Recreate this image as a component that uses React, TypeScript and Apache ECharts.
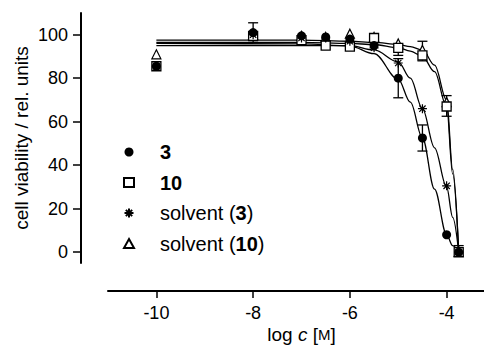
import React, { useEffect, useRef } from "react";
import * as echarts from "echarts";

const FONT = "'Liberation Sans', Arial, Helvetica, sans-serif";

// log concentrations of measured points
const conc = [-10, -8, -7, -6.5, -6, -5.5, -5, -4.5, -4, -3.75];
const cmp3 = [85.5, 101, 99.5, 99, 98, 95, 80, 52.5, 8, 0];
const cmp10 = [85.5, 99.5, 97.5, 95, 94.5, 98.5, 94, 90.5, 67, 0];
const solv3 = [85.5, 100, 98.5, 98.5, 97, 94, 87, 66, 30.5, 0];
const solv10 = [91, 100, 99.5, 99, 100.5, 99, 96, 93, 69, 0];

// fitted curves
const curveX = [-10, -7, -6, -5.5, -5, -4.75, -4.5, -4.25, -4, -3.875, -3.75];
const fit3 = [96, 95.8, 94.8, 91.3, 79.5, 69, 52.5, 29, 8, 3, 0];
const fit10 = [96.5, 96.5, 96, 95.5, 94, 92.5, 90, 83, 67, 36, 0];
const fitS3 = [95, 95, 95, 93, 87.5, 80, 66, 48, 30, 16, 0];
const fitS10 = [97.5, 97.5, 97, 96.5, 95.5, 94.5, 93, 86, 70, 38, 0];

// error bars
const errX = [-8, -5, -4.5, -4.5, -5, -4, -3.75];
const errLow = [96.5, 71, 46.5, 88, 90.5, 62.5, -2];
const errHigh = [105.5, 89, 58.5, 97, 94, 72, 3];

const xTicks = [-10, -8, -6, -4];
const yTicks = [0, 20, 40, 60, 80, 100];

const names = ["3", "10", "solvent (3)", "solvent (10)"];
const ASTERISK = "path://M5,0L5,10M0,5L10,5M1.5,1.5L8.5,8.5M1.5,8.5L8.5,1.5";

const pts = (xs: number[], ys: number[]) => xs.map((x, i) => [x, ys[i]]);

export default function App() {
  const ref = useRef<HTMLDivElement>(null);
  useEffect(() => {
    document.body.style.margin = "0";
    const chart = echarts.init(ref.current!, null, { renderer: "svg" });
    const curve = (data: number[]) => ({
      type: "line",
      data: pts(curveX, data),
      smooth: 0.35,
      smoothMonotone: "x",
      showSymbol: false,
      symbol: "none",
      lineStyle: { color: "#000", width: 1.3 },
      z: 1,
      silent: true,
    });
    chart.setOption({
      animation: false,
      backgroundColor: "#fff",
      textStyle: { fontFamily: FONT },
      grid: { left: 108, top: 13, width: 387, height: 250, containLabel: false, outerBoundsMode: "none" },
      legend: {
        orient: "vertical",
        left: 118,
        top: 137,
        itemWidth: 10,
        itemHeight: 9,
        itemGap: 10.5,
        data: names,
        formatter: (n: string) => {
          if (n === "3") return "{sp|}{b|3}";
          if (n === "10") return "{sp|}{b|10}";
          if (n === "solvent (3)") return "{sp|}{n|solvent (}{b|3}{n|)}";
          return "{sp|}{n|solvent (}{b|10}{n|)}";
        },
        textStyle: {
          fontFamily: FONT,
          fontSize: 20,
          color: "#000",
          lineHeight: 20,
          rich: {
            sp: { width: 21 },
            n: { fontSize: 20, fontFamily: FONT, color: "#000" },
            b: { fontSize: 20, fontWeight: "bold", fontFamily: FONT, color: "#000" },
          },
        },
      },
      xAxis: {
        type: "value",
        min: -11,
        max: -3,
        offset: 28,
        splitLine: { show: false },
        axisLine: { show: true, onZero: false, lineStyle: { color: "#000", width: 2 } },
        axisTick: { show: true, customValues: xTicks, length: 7, lineStyle: { color: "#000", width: 1.5 } },
        axisLabel: { customValues: xTicks, fontSize: 18, margin: 13, color: "#000", fontFamily: FONT },
        name: "log {i|c} [{s|M}]",
        nameLocation: "middle",
        nameGap: 34,
        nameMoveOverlap: false,
        nameTextStyle: {
          fontSize: 19,
          lineHeight: 19,
          color: "#000",
          fontFamily: FONT,
          rich: {
            i: { fontStyle: "italic", fontSize: 19, lineHeight: 19, fontFamily: FONT, color: "#000" },
            s: { fontSize: 15, lineHeight: 19, fontFamily: FONT, color: "#000" },
          },
        },
      },
      yAxis: {
        type: "value",
        min: -5,
        max: 110,
        offset: 27,
        splitLine: { show: false },
        axisLine: { show: true, onZero: false, lineStyle: { color: "#000", width: 2 } },
        axisTick: { show: true, customValues: yTicks, length: 8, lineStyle: { color: "#000", width: 1.5 } },
        axisLabel: { customValues: yTicks, fontSize: 18, margin: 13, color: "#000", fontFamily: FONT },
        name: "cell viability / rel. units",
        nameLocation: "middle",
        nameGap: 50,
        nameMoveOverlap: false,
        nameTextStyle: { fontSize: 19, color: "#000", fontFamily: FONT },
      },
      series: [
        curve(fit3),
        curve(fit10),
        curve(fitS3),
        curve(fitS10),
        {
          type: "custom",
          data: errX.map((x, i) => [x, errLow[i], errHigh[i]]),
          encode: { x: 0, y: [1, 2] },
          z: 2,
          silent: true,
          renderItem: (params: any, api: any) => {
            const x = api.value(0);
            const lo = api.coord([x, api.value(1)]);
            const hi = api.coord([x, api.value(2)]);
            const w = 5;
            const st = { stroke: "#000", lineWidth: 1.3 };
            return {
              type: "group",
              children: [
                { type: "line", shape: { x1: lo[0], y1: lo[1], x2: hi[0], y2: hi[1] }, style: st },
                { type: "line", shape: { x1: lo[0] - w, y1: lo[1], x2: lo[0] + w, y2: lo[1] }, style: st },
                { type: "line", shape: { x1: hi[0] - w, y1: hi[1], x2: hi[0] + w, y2: hi[1] }, style: st },
              ],
            };
          },
        },
        {
          name: "3",
          type: "scatter",
          data: pts(conc, cmp3),
          symbol: "circle",
          symbolSize: 9,
          itemStyle: { color: "#000", opacity: 1 },
          z: 5,
        },
        {
          name: "10",
          type: "scatter",
          data: pts(conc, cmp10),
          symbol: "rect",
          symbolSize: 9,
          itemStyle: { color: "#fff", borderColor: "#000", borderWidth: 1.3, opacity: 1 },
          z: 4,
        },
        {
          name: "solvent (3)",
          type: "scatter",
          data: pts(conc, solv3),
          symbol: ASTERISK,
          symbolSize: 9,
          itemStyle: { color: "#000", borderColor: "#000", borderWidth: 1.2, opacity: 1 },
          z: 6,
        },
        {
          name: "solvent (10)",
          type: "scatter",
          data: pts(conc, solv10),
          symbol: "triangle",
          symbolSize: 9,
          itemStyle: { color: "#fff", borderColor: "#000", borderWidth: 1.2, opacity: 1 },
          z: 3,
        },
      ],
    });
    return () => chart.dispose();
  }, []);
  return <div ref={ref} style={{ position: "absolute", left: 0, top: 0, width: 484, height: 345 }} />;
}
